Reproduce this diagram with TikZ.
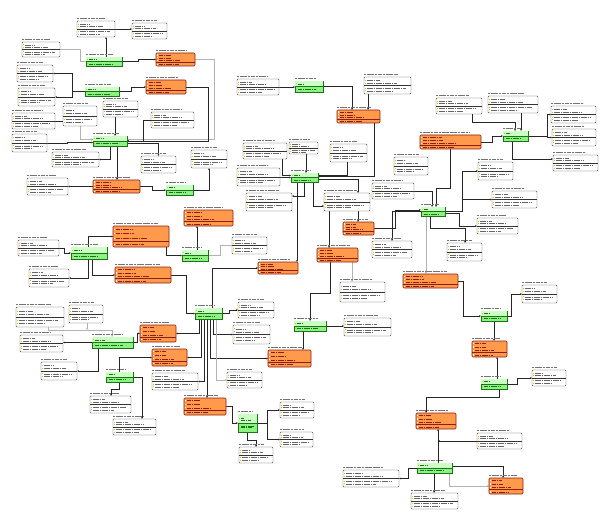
\documentclass[tikz,border=0pt]{standalone}
\usetikzlibrary{arrows.meta,backgrounds}
\definecolor{oofill}{rgb}{1,0.6,0.3}
\definecolor{oodraw}{rgb}{0.55,0.12,0.05}
\definecolor{ggfill}{rgb}{0.55,0.95,0.5}
\definecolor{ggtop}{rgb}{0.8,1,0.77}
\definecolor{ggdraw}{rgb}{0.1,0.45,0.1}
\definecolor{kkey}{rgb}{0.85,0.75,0.1}

\tikzset{
  tbl/.style={draw=black!70, fill=white, rounded corners=1pt, line width=0.4pt, inner sep=0pt, outer sep=0pt, anchor=north west},
  otbl/.style={tbl, draw=oodraw, fill=oofill, line width=0.55pt},
  gtbl/.style={tbl, draw=ggdraw, fill=ggfill, rounded corners=0pt, line width=0.55pt},
  ttl/.style={black!55, line width=0.8pt, dash pattern=on 2.2pt off 0.5pt},
  txtrow/.style={black!60, line width=0.6pt, dash pattern=on 1.8pt off 0.45pt},
  otxtrow/.style={oodraw, line width=0.6pt, dash pattern=on 1.8pt off 0.45pt},
  gtxtrow/.style={ggdraw, line width=0.6pt, dash pattern=on 1.8pt off 0.45pt},
  sep/.style={black!80, line width=0.35pt},
  rel/.style={black!85, line width=0.4pt, -{Stealth[length=2pt,width=1.6pt]}},
  lrel/.style={rel, black!30},
}

% white table: name, x1, y1, x2, y2
\newcommand{\wtab}[5]{%
  \pgfmathsetmacro{\bxw}{#4-#2}\pgfmathsetmacro{\bxh}{#5-#3}
  \node[tbl, minimum width=\bxw pt, minimum height=\bxh pt] (#1) at (#2,#3) {};
  \draw[ttl] (#2,#3-2.6) -- ++(0.72*\bxw,0);
  \draw[sep] (#2,#3+0.5*\bxh) -- (#4,#3+0.5*\bxh);
  \foreach \rf/\rl in {0.2/0.35,0.36/0.7,0.66/0.88,0.82/0.6}
    {\fill[kkey] (#2+1,#3+\rf*\bxh-0.5) rectangle ++(1,1);
     \draw[txtrow] (#2+2.8,#3+\rf*\bxh) -- ++(\rl*\bxw-3,0);}
}
% orange table
\newcommand{\otab}[5]{%
  \pgfmathsetmacro{\bxw}{#4-#2}\pgfmathsetmacro{\bxh}{#5-#3}
  \node[otbl, minimum width=\bxw pt, minimum height=\bxh pt] (#1) at (#2,#3) {};
  \draw[ttl] (#2,#3-2.6) -- ++(0.8*\bxw,0);
  \draw[oodraw, line width=0.35pt] (#2,#3+0.72*\bxh) -- (#4,#3+0.72*\bxh);
  \foreach \rf/\rl in {0.16/0.3,0.37/0.32,0.58/0.55,0.87/0.5}
    {\fill[white] (#2+1,#3+\rf*\bxh-0.6) rectangle ++(1.2,1.2);
     \draw[otxtrow] (#2+3,#3+\rf*\bxh) -- ++(\rl*\bxw,0);}
}
% green table
\newcommand{\gtab}[5]{%
  \pgfmathsetmacro{\bxw}{#4-#2}\pgfmathsetmacro{\bxh}{#5-#3}
  \node[gtbl, minimum width=\bxw pt, minimum height=\bxh pt] (#1) at (#2,#3) {};
  \fill[ggtop] (#2+0.3,#3+0.3) rectangle (#4-0.3,#3+0.5*\bxh);
  \draw[ttl] (#2,#3-2.6) -- ++(0.75*\bxw,0);
  \draw[ggdraw, line width=0.35pt] (#2,#3+0.5*\bxh) -- (#4,#3+0.5*\bxh);
  \foreach \rf/\rl in {0.26/0.3,0.76/0.75}
    {\fill[kkey] (#2+1,#3+\rf*\bxh-0.5) rectangle ++(1,1);
     \draw[gtxtrow] (#2+3,#3+\rf*\bxh) -- ++(\rl*\bxw-3,0);}
}

\begin{document}
\begin{tikzpicture}[x=1pt,y=-1pt]
\useasboundingbox (0,0) rectangle (608,516);
% white tables
\wtab{W1}{77}{21}{115}{37}
\wtab{W2}{132}{23}{167}{39}
\wtab{W3}{22}{42}{60}{57}
\wtab{W4}{17}{65}{53}{82}
\wtab{W5}{18}{88}{55}{106}
\wtab{W6}{103}{101}{138}{117}
\wtab{W7}{12}{113}{55}{129}
\wtab{W8}{63}{106}{97}{126}
\wtab{W9}{151}{112}{194}{128}
\wtab{W10}{12}{134}{47}{152}
\wtab{W11}{52}{152}{99}{167}
\wtab{W12}{141}{156}{176}{173}
\wtab{W13}{191}{150}{227}{168}
\wtab{W14}{27}{178}{68}{195}
\wtab{W15}{237}{79}{279}{95}
\wtab{W16}{364}{77}{411}{94}
\wtab{W17}{243}{143}{287}{159}
\wtab{W18}{289}{142}{318}{154}
\wtab{W19}{330}{144}{367}{162}
\wtab{W20}{237}{168}{280}{186}
\wtab{W21}{394}{157}{428}{175}
\wtab{W22}{372}{183}{414}{199}
\wtab{W23}{246}{193}{292}{211}
\wtab{W24}{324}{193}{370}{211}
\wtab{W25}{232}{237}{267}{254}
\wtab{W26}{372}{241}{412}{258}
\wtab{W28}{478}{162}{513}{180}
\wtab{W29}{492}{191}{537}{208}
\wtab{W30}{477}{218}{518}{234}
\wtab{W31}{447}{243}{482}{261}
\wtab{W32}{436}{98}{482}{114}
\wtab{W33}{488}{96}{538}{113}
\wtab{W34}{551}{106}{596}{123}
\wtab{W35}{552}{129}{596}{146}
\wtab{W36}{553}{155}{598}{171}
\wtab{W37}{522}{285}{557}{303}
\wtab{W38}{532}{370}{566}{386}
\wtab{W39}{477}{433}{522}{449}
\wtab{W40}{411}{493}{458}{509}
\wtab{W41}{343}{470}{399}{487}
\wtab{W42}{18}{240}{59}{256}
\wtab{W43}{29}{269}{69}{287}
\wtab{W44}{16}{307}{64}{327}
\wtab{W45}{69}{305}{103}{323}
\wtab{W46}{20}{335}{63}{352}
\wtab{W47}{41}{362}{77}{380}
\wtab{W48}{152}{373}{198}{390}
\wtab{W49}{90}{396}{131}{413}
\wtab{W50}{113}{419}{156}{435}
\wtab{W51}{340}{282}{385}{302}
\wtab{W52}{238}{302}{274}{318}
\wtab{W53}{344}{318}{391}{336}
\wtab{W54}{233}{325}{270}{344}
\wtab{W55}{227}{372}{262}{388}
\wtab{W56}{280}{402}{314}{418}
\wtab{W57}{280}{432}{313}{447}
\wtab{W58}{239}{447}{273}{463}
% orange tables
\otab{O1}{156}{53}{195}{66}
\otab{O2}{146}{80}{186}{94}
\otab{O3}{93}{180}{140}{193}
\otab{O4}{337}{110}{380}{123}
\otab{O5}{184}{210}{233}{226}
\otab{O6}{343}{222}{374}{235}
\otab{O7}{317}{248}{358}{262}
\otab{O8}{420}{135}{481}{149}
\otab{O9}{403}{274}{458}{288}
\otab{O10}{472}{341}{507}{357}
\otab{O11}{416}{413}{456}{429}
\otab{O12}{489}{478}{523}{494}
\otab{O13}{113}{226}{169}{247}
\otab{O14}{115}{267}{171}{283}
\otab{O15}{140}{325}{176}{342}
\otab{O16}{152}{349}{187}{366}
\otab{O17}{184}{398}{226}{415}
\otab{O18}{258}{262}{298}{274}
\otab{O19}{268}{350}{311}{367}
% green tables
\gtab{G1}{86}{57}{122}{66}
\gtab{G2}{85}{87}{119}{96}
\gtab{G3}{93}{136}{127}{146}
\gtab{G4}{166}{185}{193}{195}
\gtab{G5}{295}{81}{323}{92}
\gtab{G6}{291}{173}{318}{182}
\gtab{G7}{182}{250}{208}{261}
\gtab{G8}{421}{207}{445}{216}
\gtab{G9}{503}{131}{528}{141}
\gtab{G10}{481}{311}{507}{321}
\gtab{G11}{481}{379}{507}{389}
\gtab{G12}{417}{463}{452}{473}
\gtab{G13}{71}{247}{107}{259}
\gtab{G14}{195}{308}{222}{319}
\gtab{G15}{92}{337}{133}{348}
\gtab{G16}{106}{372}{133}{382}
\gtab{G17}{294}{321}{326}{331}
\gtab{G18}{238}{414}{257}{432}
% extra rows of the tall one
\draw[gtxtrow] (241,420) -- (251,420);
\draw[gtxtrow] (241,426) -- (254,426);
% relations
\begin{pgfonlayer}{background}
\fill[white] (0,0) rectangle (608,516);
\draw[rel] (G1.north -| 106,0) -- (W1.south -| 106,0);
\draw[rel] (W1.east) -- (W1.east -| W2.west);
\draw[lrel] (W3.east) -- ++(20,0) |- (G1.west);
\draw[rel] (G1.east) -- ++(16,0) |- (O1.west);
\draw[lrel] (O1.east) -- ++(19,0) |- ([yshift=1.5pt]G3.east);
\draw[rel] (G2.west) -- ++(-13,0) |- (W4.east);
\draw[rel] (G2.west) -- ++(-13,0) |- (W5.east);
\draw[rel] (G2.east) -- ++(12,0) |- (O2.west);
\draw[rel] (O2.east) -- ++(22,0) |- (G3.east);
\draw[rel] (W6.south -| 115,0) -- (G3.north -| 115,0);
\draw[rel] (W7.east) -- ++(25,0) |- ([yshift=1.5pt]G3.west);
\draw[lrel] (W8.south -| 80,0) |- ([yshift=1.5pt]G3.west);
\draw[rel] (W10.east) -- ++(20,0) |- ([yshift=-1.5pt]G3.west);
\draw[rel] (G3.south -| 110,0) |- (W11.east);
\draw[rel] (W9.west) -- ++(-8,0) |- (G3.east);
\draw[rel] ([yshift=-2pt]G3.east) -| (W12.north);
\draw[rel] (G3.south -| 117,0) -- (O3.north -| 117,0);
\draw[rel] (O3.west) -- (O3.west -| W14.east);
\draw[rel] (O3.east) -- ++(12,0) |- (G4.west);
\draw[rel] (G4.east) -| (W13.south);
\draw[rel] (W15.east) -- (W15.east -| G5.west);
\draw[rel] (G5.east) -| (O4.north -| 352,0);
\draw[rel] (W16.south -| 368,0) -- (O4.north -| 368,0);
\draw[rel] (O4.south -| 374,0) |- ([yshift=1pt]G6.east);
\draw[rel] (W18.south -| 306,0) -- (G6.north -| 306,0);
\draw[rel] (W17.south -| 282,0) |- ([yshift=2pt]G6.west);
\draw[rel] (W20.east) -- ++(5,0) |- (G6.west);
\draw[rel] (W19.south -| 347,0) |- ([yshift=2pt]G6.east);
\draw[rel] ([yshift=-2pt]G6.east) -| (W24.north -| 358,0);
\draw[rel] (G6.south -| 313,0) |- ([yshift=-4pt]W24.west);
\draw[rel] (G6.south -| 304,0) |- ([yshift=6pt]W23.east);
\draw[rel] (G6.south -| 297,0) -- (O18.north -| 297,0);
\draw[rel] (W24.south -| 329,0) -- (O7.north -| 329,0);
\draw[rel] (W24.south -| 358,0) -- (O6.north -| 358,0);
\draw[rel] (O6.east) -- ++(21,0) |- ([yshift=1.5pt]G8.west);
\draw[rel] (G8.west) -| (W26.north);
\draw[rel] (W22.east) -| (G8.north -| 432,0);
\draw[rel] (O8.south -| 450,0) -- (450,188) -| (G8.north -| 436,0);
\draw[rel] (G8.east) -- ++(17,0) |- (W28.west);
\draw[rel] (G8.east) -- ++(17,0) |- (W29.west);
\draw[rel] ([yshift=-2pt]G8.east) -- ++(14,0) |- (W30.west);
\draw[rel] (G8.south -| 430,0) -- (430,228) -| (W31.north -| 465,0);
\draw[lrel] (G8.south -| 426,0) -- (O9.north -| 426,0);
\draw[rel] (O8.east) -- ++(11,0) |- (G9.west);
\draw[rel] (W32.south -| 472,0) -- (472,122) -| (G9.north -| 515,0);
\draw[rel] (W33.south -| 521,0) -- (G9.north -| 521,0);
\draw[rel] (G9.east) -- ++(19,0) |- (W34.west);
\draw[rel] (G9.east) -- ++(19,0) |- (W35.west);
\draw[rel] (G9.south -| 512,0) |- ([yshift=4pt]W36.west);
\draw[rel] (O9.east) -- ++(5,0) |- (G10.west);
\draw[rel] (G10.east) -- ++(4,0) |- (W37.west);
\draw[rel] (G10.south -| 494,0) -- (O10.north -| 494,0);
\draw[rel] (G11.north -| 497,0) -- (O10.south -| 497,0);
\draw[rel] (G11.east) -- ++(10,0) |- (W38.west);
\draw[rel] (G11.south -| 499,0) -- (499,397) -| (O11.north -| 426,0);
\draw[rel] (G12.north -| 438,0) -- (O11.south -| 438,0);
\draw[rel] (W39.west) -- (W39.west -| 438,0);
\draw[rel] ([yshift=1.5pt]G12.east) -| (O12.north -| 503,0);
\draw[lrel] (G12.south -| 449,0) |- (O12.west);
\draw[rel] (G12.south -| 434,0) -- (W40.north -| 434,0);
\draw[rel] (G12.west) -- ++(-9,0) |- (W41.east);
\draw[rel] (G13.north -| 88,0) |- (O13.west);
\draw[rel] (W42.east) -- ++(5,0) |- (G13.west);
\draw[rel] (G13.south -| 88,0) |- (W43.east);
\draw[rel] (G13.south -| 92,0) |- (O14.west);
\draw[rel] (O13.south -| 166,0) |- (G7.west);
\draw[rel] (G7.north -| 197,0) -- (O5.south -| 197,0);
\draw[lrel] (G7.east) -- ++(12,0) |- (W25.west);
\draw[rel] (O14.east) -- ++(15,0) |- (G14.west);
\draw[rel] (G14.north -| 212,0) |- (O18.west);
\draw[rel] (G14.east) -- ++(7,0) |- (W52.west);
\draw[rel] (G14.south -| 199,0) |- (O15.east);
\draw[rel] (G14.south -| 201,0) |- (O16.east);
\draw[rel] (G14.south -| 204,0) |- (W48.east);
\draw[rel] (G14.south -| 207,0) -- (O17.north -| 207,0);
\draw[rel] (G14.south -| 210,0) |- (O19.west);
\draw[rel] (G14.south -| 213,0) |- (W54.west);
\draw[lrel] (G14.south -| 216,0) |- (W55.west);
\draw[rel] (O7.south -| 330,0) -- (330,293) -| (G17.north -| 310,0);
\draw[lrel] (O7.south -| 352,0) -- (W51.north -| 352,0);
\draw[rel] (G17.east) -- (G17.east -| W53.west);
\draw[rel] (G17.south -| 303,0) -- (O19.north -| 303,0);
\draw[rel] (O17.east) -- ++(6,0) |- (G18.west);
\draw[rel] (G18.east) -- ++(10,0) |- (W56.west);
\draw[rel] (G18.east) -- ++(10,0) |- (W57.west);
\draw[rel] (G18.south -| 247,0) -- (247,440) -| (W58.north -| 256,0);
\draw[rel] (G15.east) -- ++(4,0) |- (O15.west);
\draw[rel] (G15.west) -- (G15.west -| W46.east);
\draw[rel] (G15.south -| 98,0) |- (W47.east);
\draw[lrel] (W44.south -| 48,0) -- (48,330) -| (G15.north -| 112,0);
\draw[lrel] (W45.south -| 87,0) -- (87,330);
\draw[rel] (G16.north -| 119,0) |- (O16.west);
\draw[rel] (G16.south -| 119,0) -- (119,389) -| (W49.north -| 111,0);
\draw[rel] (G16.east) -| (W50.north -| 142,0);
\end{pgfonlayer}
\end{tikzpicture}
\end{document}
